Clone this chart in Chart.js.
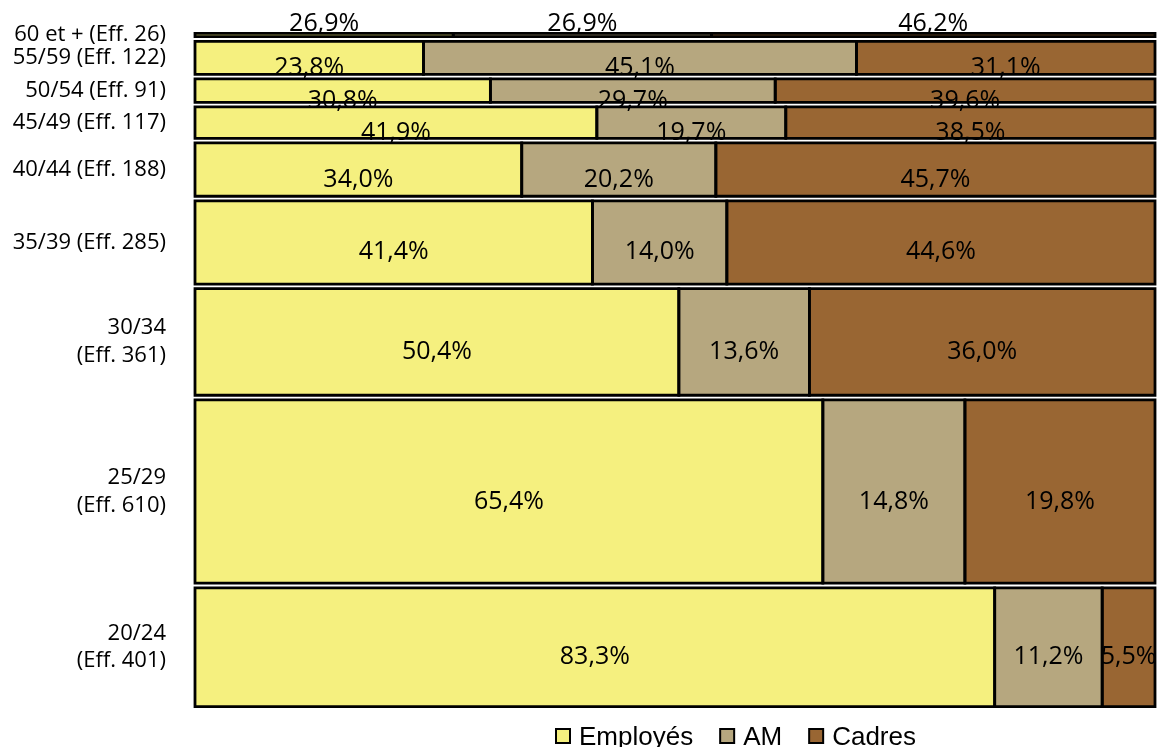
<!DOCTYPE html>
<html><head><meta charset="utf-8">
<script src="https://cdn.jsdelivr.net/npm/chart.js@4.4.0/dist/chart.umd.min.js"></script>
<style>html,body{margin:0;padding:0;background:#fff;} #wrap{width:1158px;height:747px;position:relative;}</style>
</head><body><div id="wrap"><canvas id="c"></canvas></div>
<script>
// ---- data ----
const ageGroups = ['60 et +','55/59','50/54','45/49','40/44','35/39','30/34','25/29','20/24'];
const effectifs = [26,122,91,117,188,285,361,610,401];
const seriesNames = ['Employés','AM','Cadres'];
const employes = [26.9,23.8,30.8,41.9,34.0,41.4,50.4,65.4,83.3];
const am       = [26.9,45.1,29.7,19.7,20.2,14.0,13.6,14.8,11.2];
const cadres   = [46.2,31.1,39.6,38.5,45.7,44.6,36.0,19.8,5.5];
const rowLabels = [
  ['60 et + (Eff. 26)'], ['55/59 (Eff. 122)'], ['50/54 (Eff. 91)'], ['45/49 (Eff. 117)'],
  ['40/44 (Eff. 188)'], ['35/39 (Eff. 285)'], ['30/34','(Eff. 361)'], ['25/29','(Eff. 610)'], ['20/24','(Eff. 401)']
];
const colors = ['#F5F07F','#B6A77F','#996633'];

// ---- build ----
const series = [employes, am, cadres];
const total = effectifs.reduce((a,b)=>a+b,0);
const GAP = 7.5; // inset (in effectif units) between rows
const rowStart = [];
let acc = 0;
effectifs.forEach(e => { rowStart.push(acc); acc += e; });
const rowCenters = effectifs.map((e,i)=>rowStart[i]+e/2);

const datasets = [];
ageGroups.forEach((g,i)=>{
  const rowSum = series.reduce((s,arr)=>s+arr[i],0);
  let x0 = 0;
  series.forEach((arr,k)=>{
    const x1 = x0 + arr[i]*100/rowSum;
    const y0 = rowStart[i]+GAP, y1 = rowStart[i]+effectifs[i]-GAP;
    datasets.push({
      label: seriesNames[k],
      data: [{x:x0,y:y0},{x:x1,y:y0},{x:x1,y:y1},{x:x0,y:y1},{x:x0,y:y0}],
      backgroundColor: colors[k],
      borderColor: '#000',
      borderWidth: 2.8,
      borderJoinStyle: 'miter',
      borderCapStyle: 'square',
      fill: 'shape',
      pointRadius: 0,
      pointHoverRadius: 0,
      tension: 0,
      clip: false,
      pctValue: arr[i]
    });
    x0 = x1;
  });
});

const pctLabels = {
  id: 'pctLabels',
  afterDatasetsDraw(chart){
    const ctx = chart.ctx, xs = chart.scales.x, ys = chart.scales.y;
    ctx.save();
    ctx.font = '25px "Open Sans"';
    ctx.fillStyle = '#000';
    ctx.textAlign = 'center';
    ctx.textBaseline = 'alphabetic';
    chart.data.datasets.forEach(ds=>{
      const p = ds.data;
      const cx = (xs.getPixelForValue(p[0].x)+xs.getPixelForValue(p[1].x))/2;
      const top = ys.getPixelForValue(p[0].y), bot = ys.getPixelForValue(p[2].y);
      const h = bot - top;
      const by = h < 10 ? top - 2 : (top+bot)/2 + 17;
      ctx.fillText(ds.pctValue.toFixed(1).replace('.', ',') + '%', cx, by);
    });
    ctx.restore();
  }
};

const customLegend = {
  id: 'customLegend',
  afterDraw(chart){
    const ctx = chart.ctx;
    ctx.save();
    ctx.font = '26px "Liberation Sans"';
    ctx.textBaseline = 'alphabetic';
    ctx.textAlign = 'left';
    let x = chart.chartArea.left + 360;
    const base = 745;
    seriesNames.forEach((n,k)=>{
      ctx.fillStyle = colors[k];
      ctx.fillRect(x+1, base-16, 14, 14);
      ctx.strokeStyle = '#000';
      ctx.lineWidth = 2;
      ctx.strokeRect(x+1, base-16, 14, 14);
      ctx.fillStyle = '#000';
      ctx.fillText(n, x+24, base);
      x += 24 + ctx.measureText(n).width + 26;
    });
    ctx.restore();
  }
};

new Chart(document.getElementById('c'), {
  type: 'line',
  data: { datasets },
  options: {
    responsive: true,
    maintainAspectRatio: false,
    animation: false,
    events: [],
    layout: { padding: { top: 31, right: 3, bottom: 38, left: 0 } },
    plugins: {
      legend: { display: false },
      tooltip: { enabled: false },
      filler: { drawTime: 'beforeDatasetsDraw' }
    },
    scales: {
      x: { type: 'linear', min: 0, max: 100, display: false },
      y: {
        type: 'linear', min: 0, max: total, reverse: true,
        afterBuildTicks: s => { s.ticks = rowCenters.map(v=>({value:v})); },
        afterFit: s => { s.width = 195; s.paddingTop = 0; s.paddingBottom = 0; },
        grid: { display: false, drawTicks: false },
        border: { display: false },
        ticks: {
          autoSkip: false,
          padding: 29,
          color: '#000',
          font: { family: '"Open Sans"', size: 22, lineHeight: 1.27 },
          callback: v => { const i = rowCenters.findIndex(c=>Math.abs(c-v)<0.01); return i>=0 ? rowLabels[i] : ''; }
        }
      }
    }
  },
  plugins: [pctLabels, customLegend]
});
</script>
</body></html>
